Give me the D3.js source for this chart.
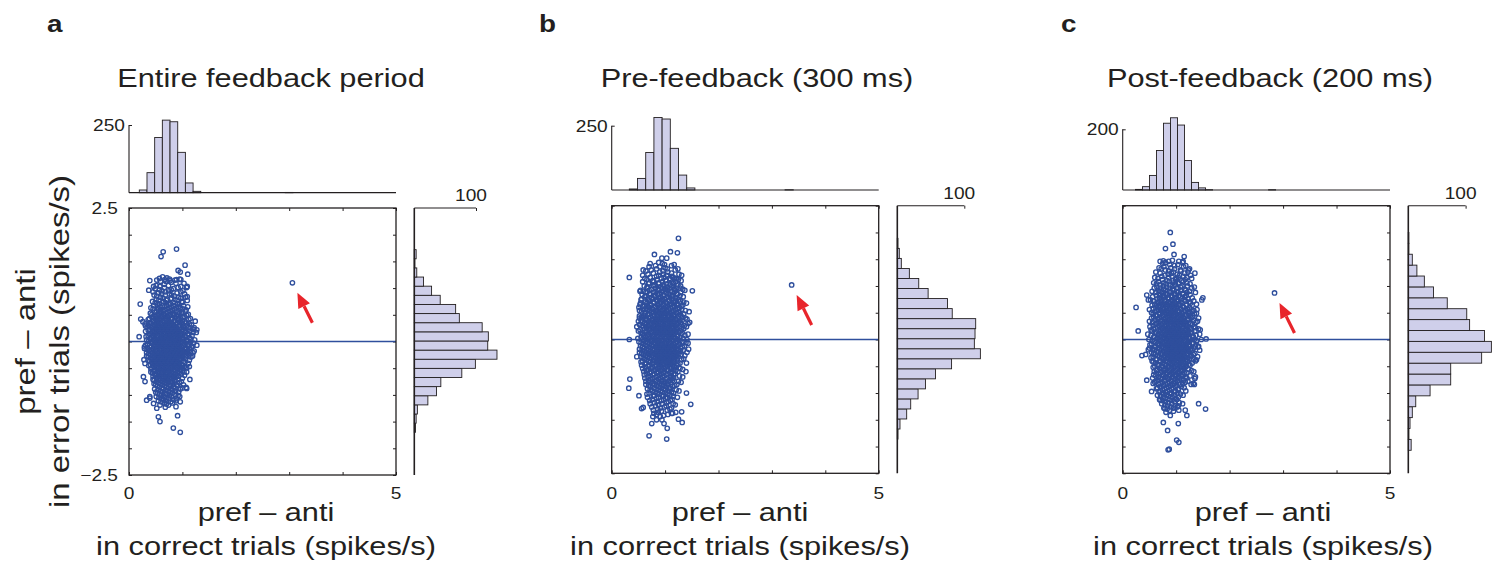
<!DOCTYPE html>
<html><head><meta charset="utf-8">
<script src="https://cdn.jsdelivr.net/npm/d3@7/dist/d3.min.js"></script>
<style>
html,body{margin:0;padding:0;background:#fff;}
svg{display:block;font-family:"Liberation Sans",Arial,Helvetica,sans-serif;}
</style></head><body>
<svg id="fig" width="1501" height="570"></svg>
<script>
// ---------------- data ----------------
const panelLetters = ["a", "b", "c"];
const panelTitles = ["Entire feedback period", "Pre-feedback (300 ms)", "Post-feedback (200 ms)"];
const xDomain = [0, 5];
const yDomain = [-2.5, 2.5];
const xTicks = [0, 1, 2, 3, 4, 5];
const yTicks = [-2.5, -2, -1.5, -1, -0.5, 0, 0.5, 1, 1.5, 2, 2.5];
const xTickLabels = [[0, "0"], [5, "5"]];
const yTickLabels = [[2.5, "2.5"], [-2.5, "\u22122.5"]];
const xLabelLines = ["pref \u2013 anti", "in correct trials (spikes/s)"];
const yLabelLines = ["pref \u2013 anti", "in error trials (spikes/s)"];

// marginal histogram of correct-trial differences (20 bins between range ends)
const topRangeA = [0.193, 3.07];
const topCountsA = [10, 74, 204, 268, 262, 149, 36, 5, 0, 0, 0, 0, 0, 0, 0, 0, 0, 0, 0, 1];
const topRangeB = [0.33, 3.40];
const topCountsB = [4, 45, 146, 282, 276, 162, 58, 8, 0, 0, 0, 0, 0, 0, 0, 0, 0, 0, 0, 1];
const topRangeC = [0.24, 2.86];
const topCountsC = [2, 11, 48, 130, 220, 238, 214, 97, 25, 7, 1, 0, 0, 0, 0, 0, 0, 0, 0, 1];
const topTickMax = [250, 250, 200];

// marginal histogram of error-trial differences (20 bins, listed bottom to top)
const sideRangeA = [-1.70, 1.72];
const sideCountsA = [2, 3, 5, 22, 36, 43, 77, 99, 134, 119, 120, 110, 73, 67, 42, 28, 15, 4, 1, 3];
const sideRangeB = [-1.86, 1.89];
const sideCountsB = [1, 4, 14, 20, 31, 42, 57, 81, 124, 115, 116, 117, 82, 75, 46, 32, 18, 6, 3, 1];
const sideRangeC = [-2.07, 2.00];
const sideCountsC = [5, 1, 3, 7, 13, 38, 74, 74, 128, 145, 133, 107, 102, 68, 44, 28, 15, 7, 1, 1];
const sideTickMax = 100;

// neurons: each row is [error-trial value, correct-trial values...]
const cloudA = [
[1.19,0.71],[1.15,0.52,0.86],[1.11,0.79],[1.07,0.66],[1.03,0.58,0.97],[0.99,0.49,0.83],
[0.95,0.62,0.74,1.01],[0.91,0.55,0.90],[0.87,0.68,0.80,0.47],[0.83,0.59,0.93,1.06],
[0.79,0.51,0.72,0.86],[0.75,0.64,0.99,0.44],[0.71,0.57,0.78,0.91],
[0.67,0.46,0.62,0.70,0.84,1.02],[0.63,0.53,0.75,0.88,0.96,0.41],[0.59,0.60,0.67,0.81,1.07],
[0.55,0.48,0.58,0.73,0.92,0.99],[0.51,0.43,0.55,0.65,0.77,0.85,1.11],
[0.47,0.50,0.62,0.71,0.89,0.97,1.03],[0.43,0.38,0.57,0.68,0.80,0.93,1.15],
[0.39,0.46,0.53,0.64,0.75,0.86,1.00],[0.35,0.41,0.51,0.60,0.70,0.79,0.91,0.98,1.08],
[0.31,0.36,0.48,0.56,0.66,0.74,0.83,0.95,1.17],[0.27,0.44,0.53,0.62,0.69,0.78,0.87,1.02,1.12,0.34],
[0.23,0.39,0.49,0.58,0.65,0.73,0.81,0.90,0.99,1.21],
[0.19,0.31,0.45,0.55,0.63,0.71,0.77,0.85,0.94,1.06,1.14],
[0.15,0.41,0.50,0.60,0.68,0.75,0.82,0.89,0.97,1.10],
[0.11,0.36,0.47,0.54,0.62,0.70,0.79,0.87,0.96,1.03,1.18],
[0.07,0.43,0.52,0.59,0.66,0.74,0.83,0.92,1.00,1.13],
[0.03,0.33,0.46,0.56,0.64,0.72,0.80,0.88,0.95,1.08,1.23],
[-0.01,0.40,0.50,0.58,0.67,0.76,0.84,0.91,0.99,1.15],
[-0.05,0.35,0.47,0.55,0.62,0.70,0.78,0.86,0.94,1.04,1.12],
[-0.09,0.42,0.53,0.60,0.68,0.75,0.82,0.90,0.98,1.19],
[-0.13,0.29,0.45,0.57,0.65,0.73,0.80,0.88,0.96,1.07,1.14],
[-0.17,0.38,0.49,0.59,0.66,0.71,0.77,0.85,0.93,1.01,1.10],
[-0.21,0.33,0.44,0.54,0.62,0.69,0.76,0.83,0.91,0.99,1.09,1.20],
[-0.25,0.40,0.50,0.58,0.66,0.73,0.80,0.87,0.95,1.03,1.13],
[-0.29,0.36,0.47,0.55,0.63,0.70,0.78,0.86,0.92,1.00,1.16],
[-0.33,0.43,0.52,0.60,0.67,0.74,0.82,0.89,0.97,1.06],
[-0.37,0.39,0.49,0.57,0.65,0.72,0.81,0.90,1.02],
[-0.41,0.45,0.54,0.62,0.69,0.77,0.85,0.94,1.11],
[-0.45,0.37,0.50,0.59,0.67,0.75,0.83,0.92,1.00],
[-0.49,0.43,0.55,0.64,0.71,0.79,0.88,0.97,1.08],
[-0.53,0.48,0.58,0.66,0.74,0.84,0.95],[-0.57,0.41,0.53,0.62,0.70,0.80,0.91,1.03],
[-0.61,0.50,0.60,0.68,0.77,0.87,0.98],[-0.65,0.45,0.56,0.65,0.73,0.83,0.93],
[-0.69,0.52,0.63,0.72,0.81,1.00],[-0.73,0.47,0.59,0.69,0.86],[-0.77,0.55,0.66,0.78,0.94],
[-0.81,0.50,0.62,0.75,0.89,1.02],[-0.85,0.57,0.70,0.83],[-0.89,0.48,0.64,0.79,0.96],
[-0.93,0.59,0.73,0.87],[-0.97,0.53,0.68,0.81],[-1.01,0.61,0.76,0.92],[-1.05,0.56,0.71],
[-1.09,0.65,0.84],[-1.13,0.60,0.78],[-1.17,0.70],
[1.21,0.63],[1.17,0.76,0.95],[1.13,0.59,0.69],[1.09,0.88,1.03],[1.05,0.51,0.74],[1.01,0.66,0.92,1.08],
[0.97,0.57,0.79],[0.93,0.45,0.68,0.97],[0.89,0.61,0.76,1.04],[0.85,0.52,0.85],[0.81,0.64,0.79,0.97],
[0.77,0.56,0.70,0.90,1.09],[0.73,0.49,0.68,0.83,1.00],[0.69,0.53,0.75,0.94],[0.65,0.58,0.66,0.79,0.92,1.10],
[0.61,0.45,0.55,0.71,0.85,1.01],[0.57,0.52,0.64,0.77,0.88,1.05],[0.53,0.40,0.60,0.69,0.81,0.95],
[0.49,0.47,0.56,0.66,0.76,0.84,0.93,1.08],[0.45,0.44,0.53,0.63,0.74,0.86,1.01],
[0.41,0.36,0.50,0.60,0.70,0.80,0.91,1.12],[0.37,0.45,0.56,0.65,0.74,0.84,0.95,1.04],
[0.33,0.40,0.52,0.61,0.69,0.78,0.88,1.00,1.13],[0.29,0.31,0.48,0.57,0.66,0.74,0.82,0.93,1.07],
[0.25,0.43,0.54,0.61,0.69,0.77,0.85,0.95,1.04,1.16],[0.21,0.36,0.47,0.52,0.60,0.68,0.75,0.84,0.92,1.01],
[0.17,0.44,0.53,0.57,0.65,0.72,0.80,0.87,0.93,1.05,1.20],[0.13,0.39,0.49,0.58,0.66,0.73,0.81,0.91,1.00,1.12],
[0.09,0.32,0.46,0.55,0.63,0.71,0.77,0.85,0.95,1.06],[0.05,0.40,0.50,0.60,0.69,0.78,0.86,0.93,1.02,1.16],
[0.01,0.37,0.48,0.54,0.61,0.69,0.74,0.82,0.90,0.98,1.10],[-0.03,0.44,0.52,0.60,0.65,0.73,0.81,0.89,0.97,1.07,1.21],
[-0.07,0.31,0.49,0.57,0.64,0.72,0.80,0.87,0.95,1.02,1.09],[-0.11,0.39,0.48,0.54,0.62,0.69,0.77,0.85,0.93,1.00,1.17],
[-0.15,0.34,0.43,0.52,0.61,0.69,0.76,0.83,0.91,0.99,1.05],[-0.19,0.41,0.53,0.63,0.70,0.74,0.81,0.89,0.97,1.06,1.15],
[-0.23,0.37,0.48,0.57,0.65,0.71,0.79,0.86,0.93,1.01,1.11],[-0.27,0.33,0.45,0.53,0.61,0.68,0.75,0.84,0.90,0.98,1.06,1.19],
[-0.31,0.41,0.50,0.58,0.65,0.72,0.80,0.88,0.95,1.03],[-0.35,0.36,0.46,0.55,0.63,0.71,0.78,0.86,0.94,1.13],
[-0.39,0.43,0.52,0.60,0.68,0.76,0.84,0.93,1.05],[-0.43,0.40,0.49,0.57,0.65,0.73,0.81,0.89,0.98],
[-0.47,0.46,0.53,0.62,0.69,0.77,0.86,0.95,1.04],[-0.51,0.41,0.52,0.61,0.69,0.79,0.90,1.01],
[-0.55,0.46,0.56,0.66,0.76,0.86,0.97],[-0.59,0.44,0.55,0.64,0.73,0.83,0.94],[-0.63,0.49,0.58,0.70,0.80,0.90,1.04],
[-0.67,0.53,0.61,0.69,0.78,0.88],[-0.71,0.45,0.56,0.66,0.76,0.92],[-0.75,0.51,0.62,0.73,0.82,0.98],
[-0.79,0.47,0.58,0.70,0.84],[-0.83,0.53,0.66,0.77,0.91],[-0.87,0.62,0.74,0.86,1.00],[-0.91,0.54,0.69,0.82],
[-0.95,0.50,0.63,0.77,0.93],[-0.99,0.57,0.71,0.86],[-1.03,0.51,0.66,0.80,0.95],[-1.07,0.61,0.75,0.89],
[-1.11,0.55,0.70,0.88],[-1.15,0.66,0.81],[-1.19,0.58,0.74],[-1.23,0.68]
];
const strayA = [[0.89,1.73],[0.64,1.68],[0.60,1.59],[1.05,1.43],[1.10,1.26],[0.92,1.33],[0.96,1.30],
[0.39,1.14],[0.57,1.18],[0.21,0.70],[0.22,0.42],[0.19,0.09],[1.24,0.38],[1.27,0.22],[1.27,-0.07],
[1.22,-0.18],[1.14,-0.71],[0.27,-0.66],[1.07,-0.86],[0.39,-1.06],[0.52,-1.25],[0.88,-1.22],
[0.91,-1.39],[0.55,-1.41],[0.58,-1.50],[0.83,-1.62],[0.96,-1.70],[0.30,-0.75],[0.26,0.37],
[0.30,0.33],[0.29,-0.10],[0.28,-0.34],[0.30,-0.41],[1.22,0.26],[1.26,0.17],[1.13,-0.47],
[1.08,-0.57],[0.37,0.96],[0.46,1.03],[0.67,1.16],[0.77,1.14],[0.89,1.16],[0.97,1.16],[1.09,1.03],
[1.09,0.84],[0.46,-1.16],[0.67,-1.16],[0.96,-1.13],[1.08,-0.88],[0.33,-1.10],[0.39,-1.03]];
const flaggedA = [3.06, 1.10];

const cloudB = [
[1.42,0.95],[1.38,0.82,1.12],[1.34,1.00],[1.30,0.74,1.19],[1.26,0.90,1.05],[1.22,0.68,0.97,1.26],
[1.18,0.84,1.13],[1.14,0.62,0.93,1.08,1.21],[1.10,0.77,1.01,1.30],[1.06,0.70,0.88,1.15],
[1.02,0.81,0.96,1.09,1.24],[0.98,0.66,0.92,1.04],[0.94,0.74,0.87,1.00,1.17,1.33],
[0.90,0.59,0.83,0.95,1.11],[0.86,0.71,0.90,1.06,1.22],[0.82,0.64,0.80,0.98,1.14,1.28],
[0.78,0.75,0.88,1.02,1.19],[0.74,0.55,0.69,0.84,0.94,1.08,1.25],[0.70,0.63,0.79,0.91,1.01,1.16,1.35],
[0.66,0.72,0.86,0.97,1.12,1.22],[0.62,0.58,0.68,0.82,0.93,1.05,1.18,1.30],
[0.58,0.65,0.76,0.89,0.99,1.10,1.24],[0.54,0.52,0.71,0.84,0.95,1.03,1.15,1.38],
[0.50,0.61,0.78,0.90,1.00,1.09,1.21],[0.46,0.67,0.80,0.93,1.06,1.17,1.29],
[0.42,0.56,0.73,0.86,0.97,1.12,1.33],[0.38,0.64,0.76,0.85,0.94,1.02,1.10,1.20,1.41],
[0.34,0.50,0.70,0.81,0.90,0.99,1.07,1.16,1.27],[0.30,0.61,0.74,0.87,0.96,1.04,1.13,1.24],
[0.26,0.57,0.68,0.79,0.89,0.98,1.09,1.19,1.36],[0.22,0.65,0.77,0.84,0.93,1.01,1.11,1.22],
[0.18,0.53,0.71,0.82,0.91,1.00,1.08,1.17,1.31],[0.14,0.62,0.75,0.86,0.95,1.05,1.14,1.26],
[0.10,0.58,0.69,0.80,0.89,0.98,1.07,1.16,1.43],[0.06,0.64,0.76,0.85,0.94,1.03,1.12,1.23],
[0.02,0.49,0.70,0.81,0.91,1.00,1.09,1.20,1.34],[-0.02,0.60,0.73,0.84,0.96,1.05,1.15,1.28],
[-0.06,0.55,0.67,0.79,0.88,0.99,1.10,1.19,1.39],[-0.10,0.63,0.74,0.86,0.93,1.02,1.13,1.25],
[-0.14,0.58,0.70,0.82,0.90,0.97,1.06,1.17,1.32],[-0.18,0.52,0.66,0.77,0.87,0.95,1.04,1.12,1.22,1.44],
[-0.22,0.61,0.72,0.83,0.92,1.01,1.09,1.18,1.29],[-0.26,0.56,0.69,0.80,0.89,0.98,1.07,1.15,1.26],
[-0.30,0.64,0.75,0.86,0.94,1.03,1.11,1.21,1.37],[-0.34,0.59,0.71,0.82,0.91,1.00,1.08,1.19],
[-0.38,0.66,0.78,0.88,0.97,1.06,1.16,1.31],[-0.42,0.55,0.72,0.84,0.93,1.02,1.13],
[-0.46,0.62,0.76,0.89,1.00,1.10,1.24],[-0.50,0.68,0.81,0.92,1.04,1.17],
[-0.54,0.58,0.74,0.87,0.98,1.12,1.28],[-0.58,0.65,0.79,0.91,1.06,1.20],[-0.62,0.71,0.85,0.96,1.09],
[-0.66,0.61,0.77,0.90,1.02,1.16],[-0.70,0.68,0.83,0.95,1.13,1.33],[-0.74,0.73,0.88,1.00,1.11],
[-0.78,0.64,0.81,0.93,1.07,1.25],[-0.82,0.76,0.90,1.04],[-0.86,0.69,0.85,0.98,1.18],
[-0.90,0.79,0.92,1.08],[-0.94,0.72,0.87,1.01,1.21],[-0.98,0.81,0.95,1.12],[-1.02,0.66,0.89,1.05],
[-1.06,0.78,0.97,1.15],[-1.10,0.84,1.01],[-1.14,0.71,0.93,1.10],[-1.18,0.80,1.03],[-1.22,0.88,1.19],
[-1.26,0.75,0.99],[-1.30,0.86,1.09],[-1.34,0.93],[-1.38,0.79,1.14],[-1.42,0.97],
[1.44,0.88],[1.40,0.99,1.17],[1.36,0.70,0.90],[1.32,0.84,1.04,1.24],[1.28,0.64,0.96],[1.24,0.78,1.12],
[1.20,0.58,0.88,1.03,1.31],[1.16,0.72,0.98,1.15],[1.12,0.66,0.85,1.10,1.25],[1.08,0.58,0.79,0.95,1.20],
[1.04,0.69,0.88,1.03,1.16],[1.00,0.61,0.78,0.98,1.13,1.29],[0.96,0.67,0.82,0.95,1.09,1.22],
[0.92,0.54,0.70,0.88,1.05,1.19,1.37],[0.88,0.64,0.78,0.93,1.02,1.17,1.29],[0.84,0.57,0.73,0.86,0.97,1.09,1.23],
[0.80,0.62,0.81,0.92,1.05,1.13,1.34],[0.76,0.56,0.67,0.78,0.89,0.99,1.12,1.22],[0.72,0.70,0.85,0.96,1.07,1.20,1.29],
[0.68,0.54,0.66,0.79,0.90,1.02,1.09,1.18,1.40],[0.64,0.62,0.74,0.86,0.97,1.08,1.23,1.33],
[0.60,0.51,0.70,0.81,0.91,1.03,1.14,1.27],[0.56,0.60,0.68,0.78,0.87,0.98,1.07,1.19,1.31],
[0.52,0.56,0.74,0.83,0.94,1.05,1.13,1.26,1.45],[0.48,0.63,0.71,0.86,0.96,1.02,1.11,1.23,1.35],
[0.44,0.52,0.61,0.77,0.88,0.99,1.07,1.15,1.25],[0.40,0.58,0.70,0.81,0.90,0.98,1.06,1.14,1.24,1.38],
[0.36,0.55,0.66,0.76,0.85,0.95,1.03,1.12,1.21,1.32],[0.32,0.65,0.78,0.83,0.92,1.00,1.09,1.18,1.29,1.46],
[0.28,0.52,0.63,0.72,0.82,0.93,1.02,1.11,1.21,1.31],[0.24,0.59,0.70,0.80,0.88,0.97,1.06,1.15,1.27,1.40],
[0.20,0.61,0.68,0.77,0.86,0.96,1.04,1.13,1.23,1.35],[0.16,0.50,0.66,0.79,0.88,0.97,1.03,1.10,1.20,1.29],
[0.12,0.55,0.72,0.83,0.92,1.01,1.10,1.19,1.32],[0.08,0.60,0.67,0.78,0.87,0.96,1.05,1.13,1.24,1.37],
[0.04,0.55,0.63,0.74,0.84,0.93,1.02,1.11,1.17,1.28],[0.00,0.58,0.66,0.77,0.88,0.97,1.07,1.13,1.23,1.41],
[-0.04,0.51,0.64,0.76,0.86,0.94,1.02,1.12,1.22,1.33],[-0.08,0.59,0.71,0.82,0.91,1.00,1.08,1.16,1.27],
[-0.12,0.54,0.66,0.77,0.85,0.95,1.04,1.14,1.23,1.36],[-0.16,0.61,0.73,0.84,0.92,1.00,1.09,1.19,1.29],
[-0.20,0.57,0.69,0.80,0.89,0.98,1.07,1.15,1.25,1.34],[-0.24,0.52,0.65,0.76,0.86,0.95,1.04,1.12,1.21,1.41],
[-0.28,0.60,0.72,0.83,0.91,1.00,1.09,1.17,1.30],[-0.32,0.55,0.68,0.78,0.88,0.97,1.05,1.14,1.24],
[-0.36,0.62,0.74,0.85,0.94,1.03,1.11,1.22,1.35],[-0.40,0.58,0.69,0.80,0.90,0.99,1.08,1.18],
[-0.44,0.65,0.79,0.87,0.96,1.06,1.16,1.28],[-0.48,0.56,0.71,0.84,0.95,1.05,1.14,1.22],
[-0.52,0.63,0.77,0.90,1.01,1.10,1.21],[-0.56,0.69,0.83,0.94,1.03,1.15,1.33],[-0.60,0.60,0.74,0.87,0.99,1.13,1.24],
[-0.64,0.66,0.80,0.93,1.05,1.19],[-0.68,0.72,0.87,0.98,1.10,1.27],[-0.72,0.62,0.77,0.91,1.03,1.16],
[-0.76,0.69,0.84,0.96,1.14],[-0.80,0.71,0.86,0.99,1.10,1.30],[-0.84,0.64,0.80,0.94,1.05,1.22],
[-0.88,0.73,0.88,1.02,1.14],[-0.92,0.67,0.83,0.97,1.10],[-0.96,0.76,0.91,1.06,1.26],[-1.00,0.70,0.85,1.00,1.16],
[-1.04,0.80,0.94,1.09],[-1.08,0.67,0.88,1.04,1.23],[-1.12,0.76,0.97,1.13],[-1.16,0.85,1.06],[-1.20,0.72,0.94,1.15],
[-1.24,0.82,1.02],[-1.28,0.91,1.12],[-1.32,0.78,1.04],[-1.36,0.87,1.20],[-1.40,0.84,1.05],[-1.44,0.91]
];
const strayB = [[1.25,1.89],[1.10,1.64],[1.23,1.62],[0.80,1.59],[0.33,1.16],[1.51,0.91],[0.33,0.0],
[0.47,-0.32],[0.34,-0.74],[0.32,-0.91],[0.51,-1.05],[1.40,-1.00],[1.48,-1.21],[1.32,-1.55],
[0.70,-1.80],[1.03,-1.86],[1.04,-1.66],[0.59,-1.27],[0.77,-1.44],[0.94,-1.50],[1.25,-1.49],
[0.53,0.65],[0.52,0.40],[0.47,0.24],[1.43,0.30],[1.43,-0.07],[1.40,-0.44],[1.39,-0.60],[0.72,1.42],
[0.94,1.52],[1.03,1.52],[1.18,1.14],[1.28,0.96],[0.59,1.30],[0.53,0.90],[0.56,-1.29],[0.84,-1.50],
[1.12,-1.38],[1.31,-1.35],[0.75,-1.57],[0.98,-1.57]];
const flaggedB = [3.37, 1.02];

const cloudC = [
[1.46,0.86,1.05],[1.42,0.75],[1.38,0.97,1.18],[1.34,0.68,0.90],[1.30,1.08,0.80],[1.26,0.62,0.95,1.22],
[1.22,0.85,1.02],[1.18,0.73,0.92,1.14],[1.14,0.66,1.00,1.29],[1.10,0.83,0.94,1.10],
[1.06,0.58,0.77,1.05,1.20],[1.02,0.70,0.89,0.99],[0.98,0.64,0.82,1.08,1.34],[0.94,0.76,0.93,1.16],
[0.90,0.55,0.70,0.87,1.01,1.25],[0.86,0.80,0.96,1.12],[0.82,0.63,0.74,0.90,1.05,1.19],
[0.78,0.69,0.84,0.99,1.30],[0.74,0.52,0.78,0.92,1.03,1.15],[0.70,0.65,0.86,0.97,1.09,1.24],
[0.66,0.60,0.73,0.83,0.94,1.06,1.38],[0.62,0.68,0.80,0.91,1.01,1.13],
[0.58,0.57,0.75,0.87,0.96,1.08,1.21],[0.54,0.64,0.71,0.82,0.93,1.04,1.17,1.33],
[0.50,0.54,0.69,0.79,0.89,0.99,1.11,1.26],[0.46,0.62,0.76,0.86,0.95,1.06,1.19],
[0.42,0.58,0.72,0.83,0.92,1.02,1.13,1.31],[0.38,0.66,0.78,0.88,0.97,1.08,1.22],
[0.34,0.50,0.70,0.81,0.91,1.00,1.10,1.17,1.40],[0.30,0.63,0.75,0.85,0.94,1.04,1.14,1.27],
[0.26,0.57,0.68,0.79,0.89,0.98,1.07,1.20],[0.22,0.65,0.74,0.84,0.93,1.03,1.12,1.24,1.36],
[0.18,0.53,0.71,0.81,0.90,0.99,1.09,1.18],[0.14,0.61,0.77,0.87,0.96,1.05,1.15,1.29],
[0.10,0.47,0.67,0.79,0.88,0.97,1.06,1.14,1.23,1.44],[0.06,0.59,0.73,0.84,0.92,1.01,1.10,1.19,1.32],
[0.02,0.64,0.76,0.86,0.95,1.03,1.12,1.26],[-0.02,0.55,0.70,0.81,0.90,0.99,1.07,1.16,1.38],
[-0.06,0.62,0.74,0.85,0.93,1.02,1.11,1.21,1.30],[-0.10,0.51,0.68,0.79,0.88,0.97,1.05,1.14,1.25],
[-0.14,0.60,0.72,0.83,0.92,1.00,1.09,1.18,1.41],[-0.18,0.56,0.69,0.80,0.89,0.98,1.07,1.16,1.27],
[-0.22,0.64,0.76,0.86,0.95,1.04,1.13,1.23],[-0.26,0.58,0.71,0.82,0.91,1.00,1.10,1.20,1.35],
[-0.30,0.66,0.78,0.88,0.97,1.06,1.15,1.28],[-0.34,0.53,0.73,0.84,0.93,1.02,1.12,1.22],
[-0.38,0.62,0.77,0.89,0.98,1.08,1.18,1.33],[-0.42,0.57,0.70,0.83,0.94,1.04,1.14],
[-0.46,0.66,0.79,0.90,1.00,1.11,1.24],[-0.50,0.60,0.74,0.86,0.96,1.07,1.19],
[-0.54,0.69,0.81,0.92,1.03,1.15],[-0.58,0.63,0.77,0.88,0.99,1.10,1.29],[-0.62,0.71,0.84,0.95,1.06,1.20],
[-0.66,0.58,0.75,0.89,1.01,1.13],[-0.70,0.67,0.80,0.93,1.04,1.17,1.36],[-0.74,0.73,0.86,0.98,1.09],
[-0.78,0.62,0.78,0.91,1.02,1.22],[-0.82,0.70,0.84,0.96,1.12],[-0.86,0.76,0.89,1.01],
[-0.90,0.65,0.82,0.94,1.15],[-0.94,0.74,0.87,1.04],[-0.98,0.68,0.80,0.97],[-1.02,0.77,0.91,1.08],
[-1.06,0.71,0.86],[-1.10,0.81,0.99],[-1.14,0.74,0.92],[-1.18,0.85,1.06],[-1.22,0.79],
[-1.26,0.90,1.02],[-1.30,0.83],[-1.34,0.95],
[1.48,0.93],[1.44,0.80,1.12],[1.40,0.88,1.03],[1.36,0.77,1.14],[1.32,0.72,0.97,1.25],[1.28,0.86,1.09],
[1.24,0.70,0.91,1.16],[1.20,0.79,1.06,1.27],[1.16,0.60,0.86,1.04,1.20],[1.12,0.74,0.99,1.17],
[1.08,0.67,0.87,0.98,1.13],[1.04,0.63,0.81,1.04,1.26],[1.00,0.76,0.94,1.11,1.21],[0.96,0.59,0.70,0.87,1.02,1.29],
[0.92,0.66,0.80,0.96,1.09,1.18],[0.88,0.62,0.75,0.90,1.04,1.20,1.36],[0.84,0.69,0.84,0.99,1.13,1.26],
[0.80,0.56,0.78,0.93,1.08,1.16],[0.76,0.64,0.73,0.87,0.97,1.10,1.22],[0.72,0.58,0.70,0.81,0.93,1.01,1.18,1.33],
[0.68,0.67,0.78,0.89,0.99,1.11,1.27],[0.64,0.55,0.64,0.76,0.87,0.97,1.06,1.19,1.30],
[0.60,0.62,0.71,0.82,0.92,1.02,1.14,1.25],[0.56,0.50,0.67,0.78,0.88,0.99,1.10,1.22,1.39],
[0.52,0.60,0.74,0.85,0.95,1.04,1.14,1.24,1.30],[0.48,0.57,0.69,0.81,0.91,1.01,1.10,1.23,1.34],
[0.44,0.64,0.76,0.87,0.97,1.07,1.17,1.26],[0.40,0.54,0.68,0.80,0.90,1.00,1.10,1.15,1.28,1.42],
[0.36,0.60,0.73,0.84,0.94,1.03,1.12,1.22,1.33],[0.32,0.56,0.66,0.78,0.87,0.96,1.05,1.15,1.24,1.37],
[0.28,0.62,0.72,0.82,0.91,1.01,1.09,1.17,1.30],[0.24,0.51,0.69,0.79,0.88,0.96,1.06,1.14,1.22,1.33],
[0.20,0.58,0.74,0.85,0.94,1.02,1.11,1.20,1.27,1.42],[0.16,0.55,0.66,0.77,0.86,0.95,1.03,1.12,1.22,1.35],
[0.12,0.63,0.72,0.82,0.91,1.00,1.08,1.18,1.26],[0.08,0.53,0.68,0.78,0.87,0.96,1.04,1.13,1.21,1.37],
[0.04,0.58,0.69,0.81,0.90,0.98,1.07,1.16,1.24,1.31],[0.00,0.49,0.66,0.76,0.86,0.94,1.02,1.10,1.20,1.34,1.47],
[-0.04,0.59,0.71,0.83,0.91,0.99,1.07,1.16,1.25,1.38],[-0.08,0.54,0.65,0.77,0.86,0.95,1.03,1.12,1.20,1.31],
[-0.12,0.62,0.74,0.81,0.90,0.99,1.07,1.15,1.23,1.36],[-0.16,0.50,0.66,0.76,0.86,0.94,1.03,1.12,1.21,1.33],
[-0.20,0.59,0.72,0.83,0.92,1.01,1.10,1.19,1.30,1.44],[-0.24,0.54,0.67,0.78,0.88,0.96,1.05,1.14,1.25],
[-0.28,0.61,0.74,0.84,0.93,1.02,1.12,1.22,1.32],[-0.32,0.57,0.69,0.80,0.90,0.99,1.08,1.17,1.27,1.40],
[-0.36,0.64,0.75,0.86,0.95,1.05,1.14,1.25],[-0.40,0.55,0.70,0.80,0.91,1.01,1.10,1.21,1.36],
[-0.44,0.61,0.75,0.87,0.97,1.07,1.18,1.30],[-0.48,0.67,0.81,0.92,1.03,1.15,1.26],
[-0.52,0.57,0.72,0.84,0.94,1.05,1.17],[-0.56,0.64,0.78,0.90,1.01,1.12,1.23],[-0.60,0.59,0.73,0.86,0.97,1.09,1.33],
[-0.64,0.68,0.81,0.92,1.04,1.16],[-0.68,0.62,0.77,0.87,0.99,1.11,1.26],[-0.72,0.56,0.70,0.83,0.95,1.06,1.20],
[-0.76,0.66,0.79,0.91,1.03,1.14],[-0.80,0.60,0.74,0.87,0.99,1.17],[-0.84,0.67,0.81,0.93,1.07,1.28],
[-0.88,0.71,0.85,0.98,1.10],[-0.92,0.63,0.78,0.91,1.04],[-0.96,0.70,0.84,0.99,1.18],[-1.00,0.74,0.88,1.03],
[-1.04,0.65,0.82,0.96,1.13],[-1.08,0.76,0.93,1.04],[-1.12,0.69,0.87,1.01],[-1.16,0.80,0.97],
[-1.20,0.73,0.92,1.12],[-1.24,0.84,0.98],[-1.28,0.77,0.95],[-1.32,0.88,1.05],[-1.36,0.81]
];
const strayC = [[0.89,2.00],[0.94,1.78],[0.80,1.70],[0.96,1.59],[1.15,1.55],[0.25,0.60],[0.29,0.16],
[1.50,0.78],[1.56,0.01],[0.36,-0.30],[0.43,-0.28],[0.54,-0.97],[1.42,-1.20],[1.55,-1.30],[0.76,-1.55],
[0.84,-1.70],[1.04,-1.57],[1.01,-1.88],[1.05,-1.92],[0.85,-2.06],[0.87,-2.05],[0.89,-1.42],
[1.20,-1.42],[1.35,-0.73],[1.34,-0.84],[0.70,1.46],[0.76,1.47],[1.13,1.46],[1.23,1.30],[1.35,1.24],
[0.45,0.83],[0.48,0.74],[1.38,0.49],[1.45,0.18],[1.48,0.74],[0.48,-0.19],[1.42,-0.13],[1.38,-0.38],
[1.32,-0.82],[0.70,-1.13],[0.79,-1.29],[1.04,-1.24],[1.17,-1.32],[0.45,-0.76],[0.57,-0.82]];
const flaggedC = [2.84, 0.87];

// ---------------- layout & style ----------------
const INK = "#231f20", BLUE = "#2f4f9d", BAR = "#cfcfea", RED = "#e8252b";
const SX = 1.16;               // horizontal stretch applied to lettering
const layout = [
  {L: 129,    R: 396,  T: 208,   B: 475,   hBase: 192.7, hTop: 125,   sAxis: 414.3,  sLen: 61.7, titleX: 271,  xlabX: 266, letterX: 47},
  {L: 611.7,  R: 878.7, T: 205.7, B: 473.3, hBase: 190,   hTop: 125.7, sAxis: 897.3,  sLen: 67,   titleX: 757,  xlabX: 740, letterX: 539},
  {L: 1122.7, R: 1390, T: 205.7, B: 473.3, hBase: 190,   hTop: 129.3, sAxis: 1408.3, sLen: 57.3, titleX: 1270, xlabX: 1263, letterX: 1061}
];
const panels = [
  {top: [topRangeA, topCountsA], side: [sideRangeA, sideCountsA], cloud: cloudA, stray: strayA, flag: flaggedA},
  {top: [topRangeB, topCountsB], side: [sideRangeB, sideCountsB], cloud: cloudB, stray: strayB, flag: flaggedB},
  {top: [topRangeC, topCountsC], side: [sideRangeC, sideCountsC], cloud: cloudC, stray: strayC, flag: flaggedC}
];

const svg = d3.select("#fig");

function text(g, x, y, s, size, anchor, weight) {
  return g.append("text")
    .attr("transform", `translate(${x},${y}) scale(${SX},1)`)
    .attr("font-size", size).attr("text-anchor", anchor || "middle")
    .attr("font-weight", weight || "normal").attr("fill", INK).text(s);
}

panels.forEach((p, i) => {
  const lo = layout[i];
  const g = svg.append("g");
  const x = d3.scaleLinear(xDomain, [lo.L, lo.R]);
  const y = d3.scaleLinear(yDomain, [lo.B, lo.T]);

  // panel letter and title
  text(g, lo.letterX, 32, panelLetters[i], 24, "start", "bold");
  text(g, lo.titleX, 87, panelTitles[i], 26.5);

  // ---- top marginal histogram ----
  const [tr, tc] = p.top;
  const tw = (tr[1] - tr[0]) / tc.length;
  const hy = d3.scaleLinear([0, topTickMax[i]], [lo.hBase, lo.hTop]);
  g.append("g").selectAll("rect").data(tc.map((c, k) => ({c, a: tr[0] + k * tw, b: tr[0] + (k + 1) * tw})).filter(d => d.c > 0))
    .join("rect")
    .attr("x", d => x(d.a)).attr("width", d => x(d.b) - x(d.a))
    .attr("y", d => hy(d.c)).attr("height", d => lo.hBase - hy(d.c))
    .attr("fill", BAR).attr("stroke", INK).attr("stroke-width", 0.9);
  g.append("line").attr("x1", lo.L).attr("x2", lo.R).attr("y1", lo.hBase).attr("y2", lo.hBase)
    .attr("stroke", INK).attr("stroke-width", 1.2);
  g.append("g").attr("transform", `translate(${lo.L},0)`)
    .call(d3.axisLeft(hy).tickValues([topTickMax[i]]).tickSize(-3).tickFormat(""))
    .call(a => a.select(".domain").attr("d", `M0,${lo.hBase}V${hy(topTickMax[i])}`).attr("stroke", INK).attr("stroke-width", 1.1))
    .call(a => a.selectAll(".tick line").attr("stroke", INK));
  text(g, lo.L - 4, hy(topTickMax[i]) + 6, String(topTickMax[i]), 16.5, "end");

  // ---- scatter ----
  const axes = [
    [d3.axisBottom(x).tickValues(xTicks), `translate(0,${lo.B})`],
    [d3.axisTop(x).tickValues(xTicks), `translate(0,${lo.T})`],
    [d3.axisLeft(y).tickValues(yTicks), `translate(${lo.L},0)`],
    [d3.axisRight(y).tickValues(yTicks), `translate(${lo.R},0)`]
  ];
  axes.forEach(([ax, tf]) => {
    g.append("g").attr("transform", tf).call(ax.tickSize(-3).tickFormat(""))
      .call(a => a.select(".domain").remove())
      .call(a => a.selectAll(".tick line").attr("stroke", INK).attr("stroke-width", 1));
  });

  g.append("line").attr("x1", lo.L).attr("x2", lo.R).attr("y1", y(0)).attr("y2", y(0))
    .attr("stroke", BLUE).attr("stroke-width", 1.3);

  const pts = p.cloud.flatMap(r => r.slice(1).map(v => [v, r[0]])).concat(p.stray, [p.flag]);
  g.append("g").selectAll("circle").data(pts).join("circle")
    .attr("cx", d => x(d[0])).attr("cy", d => y(d[1])).attr("r", 2.2)
    .attr("fill", "none").attr("stroke", BLUE).attr("stroke-width", 1.35);

  g.append("rect").attr("x", lo.L).attr("y", lo.T).attr("width", lo.R - lo.L).attr("height", lo.B - lo.T)
    .attr("fill", "none").attr("stroke", INK).attr("stroke-width", 1.3);

  // red arrow pointing at the flagged neuron
  const fx = x(p.flag[0]), fy = y(p.flag[1]);
  const tip = [fx + 5, fy + 10], tail = [fx + 20, fy + 40];
  const ang = Math.atan2(tip[1] - tail[1], tip[0] - tail[0]);
  const hl = 15, hw = 6.5;
  const base = [tip[0] - hl * Math.cos(ang), tip[1] - hl * Math.sin(ang)];
  g.append("line").attr("x1", tail[0]).attr("y1", tail[1]).attr("x2", base[0]).attr("y2", base[1])
    .attr("stroke", RED).attr("stroke-width", 3.2);
  g.append("path").attr("d", d3.line()([
      tip,
      [base[0] + hw * Math.sin(ang), base[1] - hw * Math.cos(ang)],
      [base[0] - hw * Math.sin(ang), base[1] + hw * Math.cos(ang)]
    ]) + "Z").attr("fill", RED);

  // tick labels
  xTickLabels.forEach(([v, s]) => text(g, x(v), 499, s, 16.5));
  if (i === 0) yTickLabels.forEach(([v, s]) => text(g, lo.L - 11, y(v) + 6, s, 16.5, "end"));

  // axis labels
  text(g, lo.xlabX, 521, xLabelLines[0], 26.5);
  text(g, lo.xlabX, 555, xLabelLines[1], 26.5);
  if (i === 0) {
    const cy = (lo.T + lo.B) / 2;
    [[35, yLabelLines[0]], [69, yLabelLines[1]]].forEach(([bx, s]) => {
      g.append("text").attr("transform", `translate(${bx},${cy}) rotate(-90) scale(1.22,1)`)
        .attr("font-size", 27).attr("text-anchor", "middle").attr("fill", INK).text(s);
    });
  }

  // ---- side marginal histogram ----
  const [sr, sc] = p.side;
  const sw = (sr[1] - sr[0]) / sc.length;
  const hx = d3.scaleLinear([0, sideTickMax], [lo.sAxis, lo.sAxis + lo.sLen]);
  g.append("g").selectAll("rect").data(sc.map((c, k) => ({c, a: sr[0] + k * sw, b: sr[0] + (k + 1) * sw})).filter(d => d.c > 0))
    .join("rect")
    .attr("x", lo.sAxis).attr("width", d => hx(d.c) - lo.sAxis)
    .attr("y", d => y(d.b)).attr("height", d => y(d.a) - y(d.b))
    .attr("fill", BAR).attr("stroke", INK).attr("stroke-width", 0.9);
  g.append("line").attr("x1", lo.sAxis).attr("x2", lo.sAxis).attr("y1", lo.T).attr("y2", lo.B)
    .attr("stroke", INK).attr("stroke-width", 1.6);
  g.append("g").attr("transform", `translate(0,${lo.T})`)
    .call(d3.axisTop(hx).tickValues([sideTickMax]).tickSize(-3).tickFormat(""))
    .call(a => a.select(".domain").attr("d", `M${lo.sAxis},0H${hx(sideTickMax)}`).attr("stroke", INK).attr("stroke-width", 1.1))
    .call(a => a.selectAll(".tick line").attr("stroke", INK));
  text(g, hx(sideTickMax) - 5, lo.T - 7, String(sideTickMax), 16.5);
});
</script>
</body></html>
